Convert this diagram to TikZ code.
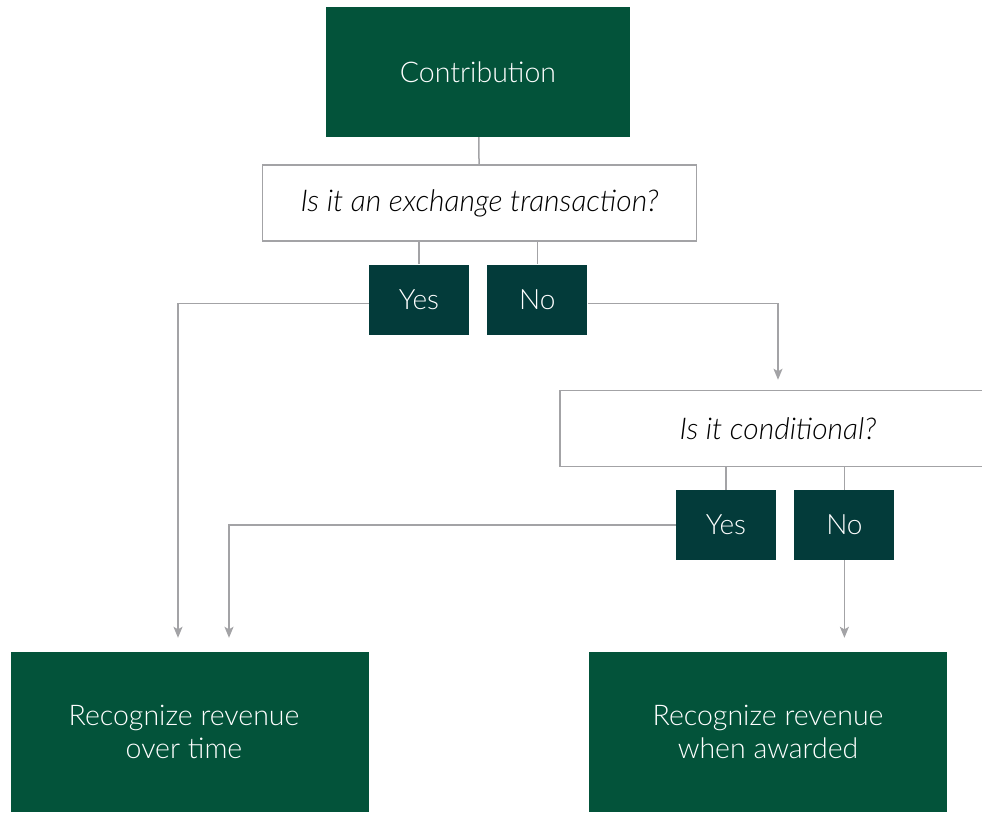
\documentclass[tikz,border=0pt]{standalone}
\usepackage{fontspec}
\IfFontExistsTF{Lato Light}{\setmainfont{Lato Light}}{\setmainfont{Lato}}
\usepackage{xcolor}
\usepackage{tikz}
\usetikzlibrary{arrows.meta,positioning}

\definecolor{boxgreen}{HTML}{03533A}
\definecolor{ansteal}{HTML}{033B3A}
\definecolor{linegray}{HTML}{A3A3A6}

\begin{document}
\begin{tikzpicture}[x=1pt, y=-1pt,
  mainbox/.style={fill=boxgreen, text=white, inner sep=0pt, align=center, font=\fontsize{28.5}{33}\selectfont},
  question/.style={draw=linegray, line width=1.5pt, fill=white, inner sep=0pt, minimum width=434pt, minimum height=76pt, font=\fontsize{30}{33}\selectfont\itshape},
  answer/.style={fill=ansteal, text=white, inner sep=0pt, minimum width=100pt, minimum height=70pt, font=\fontsize{28}{33}\selectfont},
  link/.style={draw=linegray, line width=1.5pt},
  arrow/.style={link, -{Stealth[length=11pt, width=9pt, inset=2.5pt]}, shorten >=14pt},
]
\useasboundingbox (0,0) rectangle (982,812);

% top of the tree
\node[mainbox, minimum width=304pt, minimum height=130pt] (contrib) at (478,72) {Contribution};
\node[question] (exchange) at (479.5,203) {Is it an exchange transaction?};
\node[answer] (yes1) at (419,299.5) {Yes};
\node[answer, right=18pt of yes1] (no1) {No};

% second question
\node[question, minimum width=436pt] (cond) at (778,428.5) {Is it conditional?};
\node[answer] (yes2) at (726,525) {Yes};
\node[answer, right=18pt of yes2] (no2) {No};

% outcomes
\node[mainbox, minimum width=358pt, minimum height=160pt] (overtime) at (190,732) {Recognize revenue\hspace*{12pt}\\over time\hspace*{12pt}};
\node[mainbox, minimum width=358pt, minimum height=160pt] (awarded) at (768,732) {Recognize revenue\\when awarded};

\draw[link] (contrib) -- (exchange);
\draw[link] (exchange.south -| yes1) -- (yes1);
\draw[link] (exchange.south -| no1) -- (no1);
\draw[link] (cond.south -| yes2) -- (yes2);
\draw[link] (cond.south -| no2) -- (no2);

\draw[arrow] ([yshift=-4pt]yes1.west) -| ([xshift=-12pt]overtime.north);
\draw[arrow, shorten >=10pt] ([yshift=-4pt]no1.east) -| (cond.north);
\draw[arrow] (yes2.west) -| ([xshift=39pt]overtime.north);
\draw[arrow] (no2.south) -- (no2.south |- awarded.north);

\end{tikzpicture}
\end{document}
